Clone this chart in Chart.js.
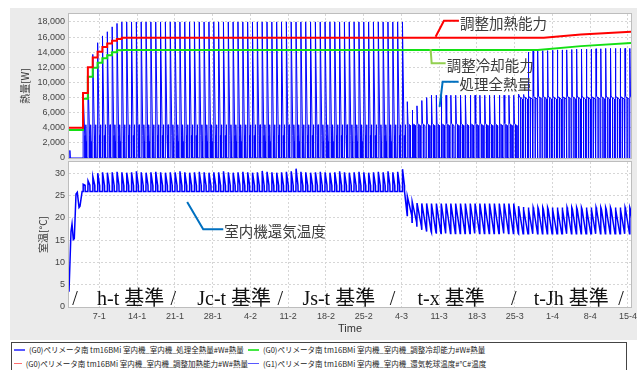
<!DOCTYPE html>
<html>
<head>
<meta charset="utf-8">
<script src="https://cdn.jsdelivr.net/npm/chart.js@4.4.0/dist/chart.umd.min.js"></script>
<style>
  body { margin: 0; background: #fff; }
  #wrap { position: relative; width: 642px; height: 370px; overflow: hidden; }
  #panel { position: absolute; left: 10px; top: 8px; width: 627px; height: 332px; background: #ebebeb; }
  canvas { position: absolute; left: 0; }
  #heatChart { top: 0; }
  #tempChart { top: 150px; }
  #legend { position: absolute; left: 11px; top: 342px; width: 612px; height: 40px; border: 1px solid #444; background: #fff;
    font: 7.5px "Noto Sans CJK JP", sans-serif; color: #222; display: grid; grid-template-columns: 234px auto;
    grid-auto-rows: 13.5px; align-content: start; line-height: 13.5px; padding-left: 2px; }
  .item { display: flex; align-items: center; white-space: nowrap; }
  .swatch { width: 11px; height: 1.5px; margin-right: 4px; }
</style>
</head>
<body>
<div id="wrap">
  <div id="panel"></div>
  <canvas id="heatChart" width="642" height="172"></canvas>
  <canvas id="tempChart" width="642" height="190"></canvas>
  <div id="legend"></div>
</div>
<script>
// time axis in days from 1 Jan
const xMin = 0.37, xMax = 104.56;
const tickDays = [6, 13, 20, 27, 34, 41, 48, 55, 62, 69, 76, 83, 90, 97, 104];
const tickLabels = ['7-1', '14-1', '21-1', '28-1', '4-2', '11-2', '18-2', '25-2', '4-3', '11-3', '18-3', '25-3', '1-4', '8-4', '15-4'];
const heatTicks = [0, 2000, 4000, 6000, 8000, 10000, 12000, 14000, 16000, 18000];
const tempTicks = [0, 5, 10, 15, 20, 25, 30];

// operating cycles (one spike each)
const cycleStart = 2.97, cycleLength = 0.897;
const heatingCycles = 67, coolingCycles = 23; // rest = t-Jh

const seriesNames = [
  '(G0)ペリメータ南 tm16BMi 室内機_室内機_処理全熱量#W#熱量',
  '(G0)ペリメータ南 tm16BMi 室内機_室内機_調整冷却能力#W#熱量',
  '(G0)ペリメータ南 tm16BMi 室内機_室内機_調整加熱能力#W#熱量',
  '(G1)ペリメータ南 tm16BMi 室内機_室内機_還気乾球温度#°C#温度'
];
const legendColors = ['#5858ff', '#44e844', '#ff6e6e', '#5858ff'];
const periodNames = ['h-t 基準', 'Jc-t 基準', 'Js-t 基準', 't-x 基準', 't-Jh 基準'];

// 処理全熱量 [W]: peak of each cycle
const heatPeak = [
  8600, 10800, 13700, 15250, 16150, 16700, 17350, 17800, 18000, 18000,
  18000, 18000, 18000, 18000, 18000, 18000, 18000, 18000, 18000, 18000,
  18000, 18000, 18000, 18000, 18000, 18000, 18000, 18000, 18000, 18000,
  18000, 18000, 18000, 18000, 18000, 18000, 18000, 18000, 18000, 18000,
  18000, 18000, 18000, 18000, 18000, 18000, 18000, 18000, 18000, 18000,
  18000, 18000, 18000, 18000, 18000, 18000, 18000, 18000, 18000, 18000,
  18000, 18000, 18000, 18000, 18000, 18000, 18000,
  7450, 6350, 6900, 7600, 8000, 8300, 8300, 8300, 8300, 8300,
  8300, 8300, 8300, 8300, 8300, 8300, 8300, 8300, 8300, 8300,
  8300, 8300, 8300,
  8450, 8400, 14000, 14150, 14200, 14200, 14200, 14250, 14300, 14300,
  14300, 14350, 14400, 14400, 14400, 14400, 14450, 14450, 14500, 14500,
  14500, 14500, 14500, 14500
];
const heatPreamble = [[0.37, 0], [0.52, 0], [0.55, 1000], [0.62, 0]];
// levels after the morning peak, per operating mode
const heatBodyHeating = [3000, 0, 0, 4400, 2200, 0];
const heatBodyCooling = [4600, 4400, 0, 4400, 4300, 0];
const heatBodyReheat = [8200, 7900, 0, 8000, 7800, 0];

// 調整加熱能力 / 調整冷却能力 [W]
const heatCapStart = 4000;
const heatCapSteps = [8600, 12000, 13300, 14050, 14700, 15150, 15500, 15750, 15900];
const heatCapRise = [[88.39, 15900], [95.26, 16350], [104.56, 16700]];
const coolCapStart = 3700;
const coolCapSteps = [7850, 10750, 11950, 12600, 13200, 13600, 14000, 14250, 14300];
const coolCapRise = [[87.28, 14300], [95.26, 14800], [104.56, 15200]];

// 還気乾球温度 [°C]
const tempPreamble = [[0.37, 3.4], [0.74, 16.9], [0.93, 18.6], [1.17, 15.1], [1.35, 15.3],
  [1.67, 25.3], [1.91, 25.7], [2.23, 22.3], [2.41, 22.6], [2.8, 25.9]];
const tempPeak = [
  27.5, 28.3, 29.2, 30.0, 30.2, 30.1, 30.2, 30.3, 30.2, 30.1,
  30.2, 30.4, 30.2, 30.1, 30.2, 30.3, 30.2, 30.1, 30.2, 30.2,
  30.4, 30.2, 30.1, 30.2, 30.3, 30.2, 30.1, 30.2, 30.2, 30.4,
  30.2, 30.1, 30.2, 30.3, 30.2, 30.1, 30.2, 30.5, 30.3, 30.2,
  30.1, 30.2, 30.3, 30.4, 31.0, 30.3, 30.2, 30.1, 30.2, 30.3,
  30.2, 30.1, 30.2, 30.4, 30.2, 30.1, 30.2, 30.3, 30.2, 30.1,
  30.2, 30.3, 30.2, 30.4, 30.2, 30.3, 30.9,
  24.8, 23.6, 23.3, 23.2, 23.2, 23.2, 23.2, 23.2, 23.2, 23.2,
  23.2, 23.2, 23.2, 23.2, 23.2, 23.2, 23.2, 23.2, 23.2, 23.2,
  23.2, 23.2, 23.2,
  22.6, 22.4, 22.3, 22.3, 22.3, 22.3, 22.3, 22.3, 22.3, 22.3,
  22.3, 22.3, 22.3, 22.3, 22.3, 22.3, 22.3, 22.3, 22.3, 22.3,
  22.3, 22.3, 22.3, 22.3
];
const tempLow = [
  25.9, 25.9, 25.9, 25.9, 25.9, 25.9, 25.9, 25.9, 25.9, 25.9,
  25.9, 25.9, 25.9, 25.9, 25.9, 25.9, 25.9, 25.9, 25.9, 25.9,
  25.9, 25.9, 25.9, 25.9, 25.9, 25.9, 25.9, 25.9, 25.9, 25.9,
  25.9, 25.9, 25.9, 25.9, 25.9, 25.9, 25.9, 25.9, 25.9, 25.9,
  25.9, 25.9, 25.9, 25.9, 25.9, 25.9, 25.9, 25.9, 25.9, 25.9,
  25.9, 25.9, 25.9, 25.9, 25.9, 25.9, 25.9, 25.9, 25.9, 25.9,
  25.9, 25.9, 25.9, 25.9, 25.9, 25.9, 25.9,
  20.5, 19.0, 18.0, 17.3, 16.9, 16.7, 16.6, 16.5, 16.5, 16.5,
  16.5, 16.5, 16.5, 16.5, 16.5, 16.5, 16.5, 16.5, 16.5, 16.5,
  16.5, 16.5, 16.5,
  16.4, 16.4, 16.4, 16.4, 16.4, 16.4, 16.4, 16.4, 16.4, 16.4,
  16.4, 16.4, 16.4, 16.4, 16.4, 16.4, 16.4, 16.4, 16.4, 16.4,
  16.4, 16.4, 16.4, 16.4
];
const tempHeatingFall = 27.3;
const tempReheatShoulder = 21.9;

// ---- build point lists ----
const cycleX = i => cycleStart + i * cycleLength;
const modeOf = i => i < heatingCycles ? 'heating' : (i < heatingCycles + coolingCycles ? 'cooling' : 'reheat');
const bodyLevels = { heating: heatBodyHeating, cooling: heatBodyCooling, reheat: heatBodyReheat };
const bodyTimes = {
  heating: [0.32, 0.36, 0.50, 0.52, 0.60, 0.62],
  cooling: [0.15, 0.35, 0.36, 0.37, 0.60, 0.62],
  reheat: [0.12, 0.40, 0.41, 0.42, 0.75, 0.78]
};

const heatPts = heatPreamble.map(([x, y]) => ({x, y}));
heatPeak.forEach((peak, i) => {
  const s = cycleX(i), mode = modeOf(i);
  heatPts.push({x: s, y: 0}, {x: s + 0.02, y: peak});
  bodyLevels[mode].forEach((v, k) => heatPts.push({x: s + bodyTimes[mode][k], y: v}));
});

function capLine(start, steps, rise) {
  const pts = [{x: xMin, y: start}];
  let prev = start;
  steps.forEach((v, i) => {
    const s = cycleX(i);
    pts.push({x: s, y: prev}, {x: s, y: v});
    prev = v;
  });
  rise.forEach(([x, y]) => pts.push({x, y}));
  return pts;
}

const tempPts = tempPreamble.map(([x, y]) => ({x, y}));
tempPeak.forEach((peak, i) => {
  const s = cycleX(i), low = tempLow[i], mode = modeOf(i);
  tempPts.push({x: s, y: low}, {x: s + 0.03, y: peak});
  if (mode === 'heating') tempPts.push({x: s + 0.38, y: tempHeatingFall}, {x: s + 0.40, y: low});
  else if (mode === 'reheat') tempPts.push({x: s + 0.12, y: tempReheatShoulder}, {x: s + 0.85, y: low});
  else tempPts.push({x: s + 0.85, y: low});
});

// ---- drawing helpers ----
Chart.defaults.font.family = '"Liberation Sans", Arial, sans-serif';
const tickFont = {family: '"Liberation Sans", Arial, sans-serif', size: 9};
const cjk = '"Noto Sans CJK JP", sans-serif';
const gridStyle = {color: '#d6d6d6', drawTicks: false, lineWidth: 1};

const framePlugin = {
  id: 'frame',
  beforeDraw(chart) {
    const {ctx, chartArea: a} = chart;
    ctx.save();
    ctx.fillStyle = '#fff';
    ctx.fillRect(a.left, a.top, a.right - a.left, a.bottom - a.top);
    ctx.restore();
  },
  afterDraw(chart) {
    const {ctx, chartArea: a} = chart;
    ctx.save();
    ctx.strokeStyle = '#bdbdbd';
    ctx.lineWidth = 1;
    ctx.strokeRect(a.left - 0.5, a.top - 0.5, a.right - a.left + 1, a.bottom - a.top + 1);
    ctx.restore();
  }
};

const calloutPlugin = {
  id: 'callouts',
  afterDatasetsDraw(chart, args, opts) {
    const {ctx, scales: {x, y}} = chart;
    ctx.save();
    (opts.items || []).forEach(c => {
      const pts = c.path.map(([dx, dy]) => [x.getPixelForValue(dx), y.getPixelForValue(dy)]);
      ctx.strokeStyle = c.color;
      ctx.lineWidth = 2;
      ctx.beginPath();
      pts.forEach(([px, py], i) => i ? ctx.lineTo(px, py) : ctx.moveTo(px, py));
      ctx.stroke();
      const [ex, ey] = pts[pts.length - 1];
      ctx.fillStyle = '#3c3c3c';
      ctx.font = '14.5px ' + cjk;
      ctx.textBaseline = 'middle';
      ctx.fillText(c.text, ex + 1, ey + 2.5);
    });
    if (opts.periods) {
      ctx.fillStyle = '#111';
      ctx.font = '20px "Liberation Serif", "Noto Sans CJK JP", serif';
      ctx.textBaseline = 'alphabetic';
      const by = y.getPixelForValue(opts.periods.baseline);
      opts.periods.slashes.forEach(d => {
        ctx.textAlign = 'center';
        ctx.fillText('/', x.getPixelForValue(d), by);
      });
      ctx.textAlign = 'left';
      periodNames.forEach((t, i) => ctx.fillText(t, x.getPixelForValue(opts.periods.starts[i]), by));
    }
    ctx.restore();
  }
};

function xAxis(showLabels) {
  return {
    type: 'linear', min: xMin, max: xMax,
    afterBuildTicks: s => { s.ticks = tickDays.map(v => ({value: v})); },
    afterFit: s => { s.height = showLabels ? 33 : 0; },
    ticks: {
      display: showLabels, autoSkip: false, maxRotation: 0, padding: 4, color: '#444', font: tickFont,
      callback: v => tickLabels[tickDays.indexOf(v)]
    },
    grid: gridStyle,
    border: {display: false, dash: [2, 2]},
    title: {display: showLabels, text: 'Time', color: '#333', font: {size: 11}, padding: {top: 0, bottom: 4}}
  };
}

function yAxis(max, ticks, title, width, fmt) {
  return {
    min: 0, max: max,
    afterBuildTicks: s => { s.ticks = ticks.map(v => ({value: v})); },
    afterFit: s => { s.width = width; },
    ticks: {padding: 4, color: '#444', font: tickFont, callback: fmt},
    grid: gridStyle,
    border: {display: false, dash: [2, 2]},
    title: {display: true, text: title, color: '#333', font: {family: cjk, size: 10}, padding: {top: 4, bottom: 4}}
  };
}

new Chart(document.getElementById('heatChart'), {
  type: 'line',
  data: {
    datasets: [
      {label: seriesNames[2], data: capLine(heatCapStart, heatCapSteps, heatCapRise), borderColor: '#ff0000', borderWidth: 2, order: 0},
      {label: seriesNames[1], data: capLine(coolCapStart, coolCapSteps, coolCapRise), borderColor: '#14e014', borderWidth: 2, order: 1},
      {label: seriesNames[0], data: heatPts, borderColor: '#0000ff', borderWidth: 1, order: 2}
    ]
  },
  options: {
    responsive: false, animation: false,
    layout: {padding: {left: 15, right: 11, top: 14, bottom: 14}},
    elements: {point: {radius: 0}, line: {tension: 0}},
    scales: {
      x: xAxis(false),
      y: yAxis(19050, heatTicks, '熱量[W]', 54, v => v.toLocaleString('en-US'))
    },
    plugins: {
      legend: {display: false}, tooltip: {enabled: false},
      callouts: {items: [
        {color: '#ff0000', text: '調整加熱能力', path: [[68.34, 16045], [69.88, 18160], [72.66, 18160]]},
        {color: '#92d050', text: '調整冷却能力', path: [[67.41, 14420], [67.6, 12530], [70.2, 12530]]},
        {color: '#0070c0', text: '処理全熱量', path: [[69.08, 6750], [69.64, 10090], [72.6, 10090]]}
      ]}
    }
  },
  plugins: [framePlugin, calloutPlugin]
});

new Chart(document.getElementById('tempChart'), {
  type: 'line',
  data: {
    datasets: [
      {label: seriesNames[3], data: tempPts, borderColor: '#0000ff', borderWidth: 1.5}
    ]
  },
  options: {
    responsive: false, animation: false,
    layout: {padding: {left: 33, right: 11, top: 12, bottom: 0}},
    elements: {point: {radius: 0}, line: {tension: 0}},
    scales: {
      x: xAxis(true),
      y: yAxis(32.5, tempTicks, '室温[°C]', 36, v => String(v))
    },
    plugins: {
      legend: {display: false}, tooltip: {enabled: false},
      callouts: {
        items: [
          {color: '#0070c0', text: '室内機還気温度', path: [[22.28, 23.56], [25.25, 17.43], [28.97, 17.43]]}
        ],
        periods: {
          baseline: 0.45,
          slashes: [1.48, 19.68, 39.55, 60.35, 82.82, 102.69],
          starts: [5.57, 24.14, 43.64, 64.99, 86.53]
        }
      }
    }
  },
  plugins: [framePlugin, calloutPlugin]
});

// legend box (two columns, row by row)
const legend = document.getElementById('legend');
seriesNames.forEach((name, i) => {
  const item = document.createElement('div');
  item.className = 'item';
  const sw = document.createElement('span');
  sw.className = 'swatch';
  sw.style.background = legendColors[i];
  const tx = document.createElement('span');
  tx.textContent = name;
  item.append(sw, tx);
  legend.appendChild(item);
});
</script>
</body>
</html>
